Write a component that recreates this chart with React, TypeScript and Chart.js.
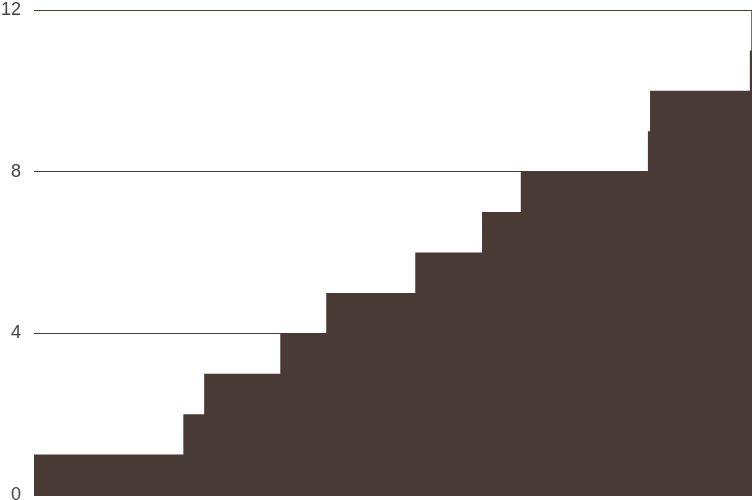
import { useEffect, useRef } from 'react';
import Chart from 'chart.js/auto';

// step positions along the x range (0..100) and the running count at each step
const stepX = [0, 20.8, 23.7, 34.3, 40.7, 53.1, 62.4, 67.8, 85.5, 85.8, 99.7, 99.9, 100];
const stepCount = [1, 2, 3, 4, 5, 6, 7, 8, 9, 10, 11, 12, 12];
const yTicks = [0, 4, 8, 12];

const FILL = '#4a3a36';

export default function App() {
  const canvasRef = useRef<HTMLCanvasElement | null>(null);

  useEffect(() => {
    document.body.style.margin = '0';
    if (!canvasRef.current) {
      return;
    }

    const chart = new Chart(canvasRef.current, {
      type: 'line',
      data: {
        datasets: [
          {
            data: stepX.map((x, i) => ({ x, y: stepCount[i] })),
            stepped: 'before',
            fill: 'origin',
            backgroundColor: FILL,
            borderColor: FILL,
            borderWidth: 0,
            pointRadius: 0,
          },
        ],
      },
      options: {
        animation: false,
        responsive: true,
        maintainAspectRatio: false,
        layout: { padding: { top: 10, bottom: 5, left: 0, right: 0 } },
        plugins: { legend: { display: false }, tooltip: { enabled: false } },
        scales: {
          x: {
            type: 'linear',
            min: stepX[0],
            max: stepX[stepX.length - 1],
            display: false,
          },
          y: {
            min: yTicks[0],
            max: yTicks[yTicks.length - 1],
            border: { display: false },
            grid: { color: FILL, lineWidth: 1, drawTicks: false },
            afterBuildTicks: (scale) => {
              scale.ticks = yTicks.map((value) => ({ value }));
            },
            afterFit: (scale) => {
              scale.width = 34;
              scale.paddingTop = 0;
              scale.paddingBottom = 0;
            },
            ticks: {
              padding: 13,
              color: '#444',
              font: { family: 'Liberation Sans, Arial, sans-serif', size: 18 },
            },
          },
        },
      },
    });

    return () => {
      chart.destroy();
    };
  }, []);

  return (
    <div style={{ width: 752, height: 500, position: 'relative' }}>
      <canvas ref={canvasRef} />
    </div>
  );
}
